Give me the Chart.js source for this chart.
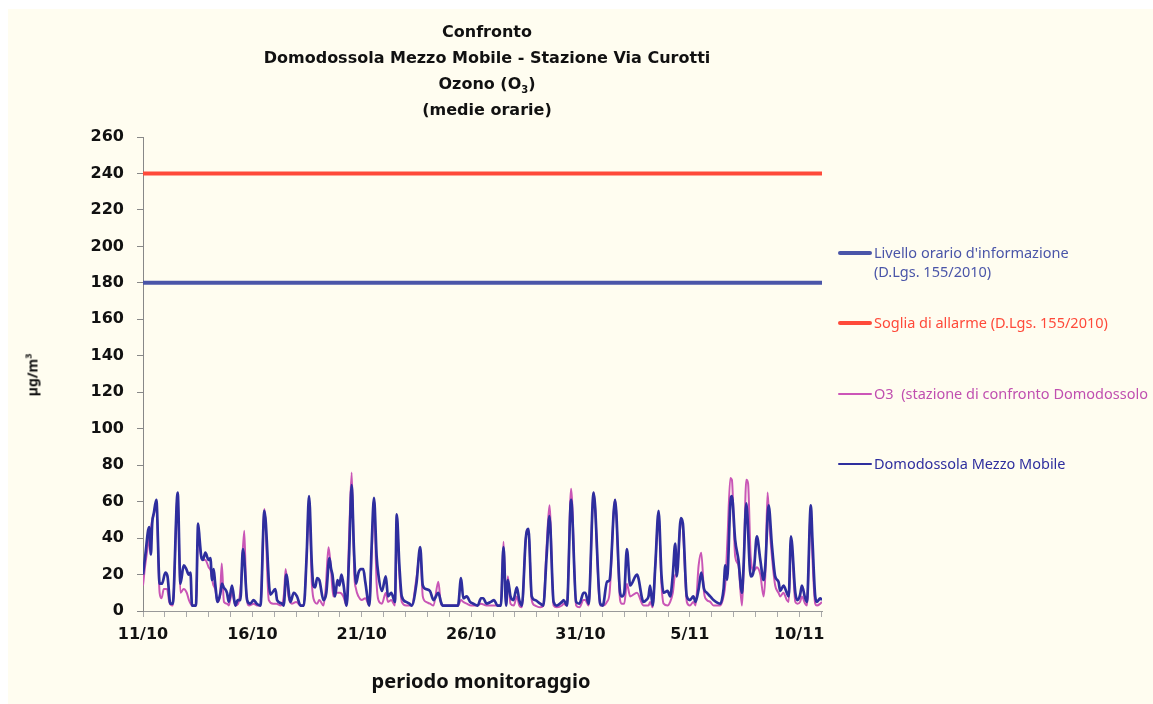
<!DOCTYPE html>
<html>
<head>
<meta charset="utf-8">
<script src="https://cdn.jsdelivr.net/npm/chart.js@4.4.1/dist/chart.umd.min.js"></script>
<style>
  body { margin: 0; background: #fff; }
  #wrap { position: relative; width: 1153px; height: 704px; overflow: hidden; }
  #bg { position: absolute; left: 8px; top: 9px; right: 0; bottom: 0; background: #fffdf0; }
  canvas { position: absolute; left: 0; top: 0; }
  .txt { position: absolute; font-family: 'Noto Sans', sans-serif; white-space: nowrap; }
  #title { left: 0; width: 974px; top: 19px; text-align: center; font-family: 'DejaVu Sans', sans-serif; font-weight: bold; font-size: 16px; line-height: 26px; color: #111; }
  #title sub { font-size: 10px; line-height: 0; }
  #ytitle { left: 32px; top: 375px; transform: translate(-50%, -50%) rotate(-90deg); font-weight: bold; font-size: 14px; color: #111; }
  #ytitle sup { font-size: 9px; line-height: 0; }
  #xtitle { left: 481px; top: 680px; transform: translate(-50%, -50%); font-weight: bold; font-size: 20px; color: #111; }
  .leg { font-size: 14.5px; line-height: 19px; }
  .swatch { position: absolute; left: 838px; width: 34px; border-radius: 2px; }
</style>
</head>
<body>
<div id="wrap">
  <div id="bg"></div>
  <canvas id="chart" width="1153" height="704"></canvas>
  <div id="title" class="txt">Confronto<br>Domodossola Mezzo Mobile - Stazione Via Curotti<br>Ozono (O<sub>3</sub>)<br>(medie orarie)</div>
  <div id="ytitle" class="txt">µg/m<sup>3</sup></div>
  <div id="xtitle" class="txt">periodo monitoraggio</div>

  <div class="swatch" style="top:251px;height:4px;background:#4a55a8"></div>
  <div class="txt leg" style="left:874px;top:243px;color:#4a55a8">Livello orario d'informazione<br>(D.Lgs. 155/2010)</div>

  <div class="swatch" style="top:321px;height:4px;background:#ff4a3a"></div>
  <div class="txt leg" style="left:874px;top:313px;color:#ff4a3a">Soglia di allarme (D.Lgs. 155/2010)</div>

  <div class="swatch" style="top:393px;height:1.5px;background:#cc55b8"></div>
  <div class="txt leg" style="left:874px;top:384px;color:#c050b0">O3&nbsp; (stazione di confronto Domodossolo</div>

  <div class="swatch" style="top:463px;height:2px;background:#2e2e9e"></div>
  <div class="txt leg" style="left:874px;top:454px;color:#2e2e9e">Domodossola Mezzo Mobile</div>
</div>

<script>
// soglie (D.Lgs. 155/2010)
const infoLevel = 180;
const alarmLevel = 240;

// asse x: giorni dal 11/10
const tickDays = [0, 5, 10, 15, 20, 25, 30];
const tickLabels = ["11/10", "16/10", "21/10", "26/10", "31/10", "5/11", "10/11"];
const lastDay = 31.04;

// letture [giorno, µg/m3] - mezzo mobile
const mezzoMobile = [
  [0, 20], [0.1, 30], [0.28, 46], [0.36, 31], [0.42, 48], [0.5, 54], [0.61, 61], [0.76, 15], [0.87, 15],
  [1.02, 21], [1.12, 19], [1.25, 4], [1.36, 4], [1.585, 65], [1.71, 15], [1.86, 25], [1.98, 23],
  [2.09, 20], [2.17, 21], [2.24, 3], [2.42, 3], [2.52, 48], [2.59, 39], [2.66, 30], [2.74, 28], [2.85, 32],
  [3.0, 28], [3.08, 29], [3.16, 17], [3.23, 23], [3.3, 15], [3.41, 5], [3.54, 10], [3.61, 15], [3.69, 13],
  [3.84, 10], [3.92, 5], [4.07, 14], [4.22, 3], [4.33, 6], [4.45, 6], [4.57, 34], [4.62, 30], [4.76, 6],
  [4.9, 4], [5.06, 6], [5.2, 4], [5.37, 3], [5.55, 55], [5.82, 9], [6.05, 12], [6.13, 6], [6.36, 4],
  [6.43, 3], [6.55, 20], [6.74, 5], [6.89, 10], [7.04, 8], [7.2, 3], [7.35, 3], [7.48, 30], [7.59, 63],
  [7.72, 25], [7.79, 14], [7.87, 13], [7.96, 18], [8.06, 17], [8.25, 6], [8.38, 10], [8.52, 29], [8.6, 23],
  [8.66, 20], [8.78, 8], [8.89, 17], [8.98, 14], [9.07, 20], [9.16, 15], [9.31, 3], [9.42, 30], [9.54, 69],
  [9.64, 35], [9.74, 15], [9.85, 21], [9.96, 23], [10.07, 23], [10.16, 16], [10.35, 3], [10.45, 35],
  [10.56, 62], [10.68, 30], [10.76, 20], [10.92, 11], [11.1, 19], [11.2, 8], [11.35, 10], [11.52, 5],
  [11.6, 53], [11.72, 25], [11.83, 8], [12.03, 5], [12.18, 4], [12.28, 3], [12.5, 15], [12.67, 35],
  [12.79, 14], [12.94, 12], [13.12, 11], [13.28, 6], [13.5, 10], [13.62, 5], [13.7, 3], [14.4, 3],
  [14.54, 18], [14.64, 7], [14.8, 8], [14.95, 5], [15.1, 4], [15.3, 3], [15.45, 7], [15.56, 7], [15.7, 4],
  [15.9, 5], [16.05, 6], [16.2, 3], [16.36, 3], [16.48, 35], [16.6, 3], [16.68, 17], [16.8, 8], [16.93, 6],
  [17.09, 13], [17.2, 6], [17.32, 3], [17.5, 40], [17.62, 45], [17.77, 8], [17.92, 6], [18.16, 4],
  [18.3, 3], [18.45, 30], [18.58, 52], [18.77, 5], [18.92, 3], [19.15, 5], [19.23, 6], [19.38, 3],
  [19.57, 61], [19.8, 5], [19.95, 4], [20.14, 10], [20.22, 10], [20.37, 4], [20.6, 65], [20.9, 4],
  [21.02, 3], [21.21, 16], [21.33, 17], [21.58, 61], [21.81, 10], [21.89, 8], [22.0, 10], [22.12, 34],
  [22.27, 14], [22.58, 20], [22.88, 5], [23.0, 6], [23.11, 8], [23.18, 14], [23.3, 3], [23.42, 25],
  [23.57, 55], [23.7, 20], [23.8, 10], [23.98, 11], [24.1, 8], [24.22, 20], [24.33, 37], [24.4, 19],
  [24.59, 51], [24.68, 48], [24.86, 8], [25.0, 6], [25.16, 8], [25.26, 5], [25.4, 12], [25.52, 21],
  [25.65, 12], [25.78, 10], [25.93, 8], [26.08, 6], [26.39, 4], [26.54, 12], [26.62, 25], [26.7, 17],
  [26.85, 59], [26.92, 63], [27.07, 39], [27.22, 28], [27.38, 10], [27.45, 23], [27.58, 59], [27.78, 19],
  [27.93, 23], [28.06, 41], [28.22, 28], [28.37, 17], [28.45, 25], [28.6, 58], [28.75, 36], [28.9, 19],
  [29.05, 16], [29.13, 11], [29.28, 14], [29.43, 10], [29.52, 8], [29.62, 41], [29.82, 10], [29.92, 6],
  [30.04, 9], [30.12, 14], [30.27, 7], [30.35, 5], [30.53, 58], [30.6, 40], [30.73, 8], [30.81, 5],
  [30.96, 7], [31.04, 6]
];

// letture [giorno, µg/m3] - stazione di confronto
const stazione = [
  [0, 14], [0.1, 25], [0.28, 40], [0.36, 45], [0.42, 50], [0.5, 53], [0.61, 60], [0.76, 10], [0.85, 7],
  [0.95, 12], [1.1, 12], [1.2, 5], [1.36, 3], [1.585, 64], [1.71, 10], [1.86, 12], [2.0, 10], [2.1, 6],
  [2.24, 3], [2.42, 3], [2.52, 44], [2.6, 35], [2.7, 28], [2.85, 28], [3.0, 24], [3.1, 22], [3.2, 15],
  [3.3, 12], [3.41, 5], [3.52, 8], [3.6, 26], [3.7, 5], [3.85, 4], [3.92, 3], [4.07, 10], [4.22, 3],
  [4.35, 4], [4.48, 15], [4.63, 44], [4.72, 10], [4.85, 3], [5.06, 4], [5.2, 3], [5.37, 3], [5.55, 56],
  [5.75, 6], [5.95, 4], [6.1, 4], [6.3, 3], [6.45, 10], [6.52, 23], [6.65, 8], [6.8, 4], [7.0, 5],
  [7.2, 3], [7.35, 3], [7.48, 30], [7.59, 61], [7.72, 15], [7.85, 5], [7.96, 4], [8.06, 6], [8.25, 3],
  [8.35, 12], [8.48, 35], [8.58, 25], [8.7, 8], [8.85, 10], [9.0, 10], [9.16, 8], [9.31, 3], [9.42, 40],
  [9.54, 76], [9.66, 20], [9.74, 12], [9.85, 8], [10.0, 6], [10.16, 7], [10.35, 3], [10.45, 30],
  [10.56, 58], [10.68, 15], [10.76, 6], [10.92, 4], [11.1, 10], [11.2, 5], [11.35, 6], [11.52, 3],
  [11.6, 53], [11.72, 20], [11.83, 5], [12.03, 3], [12.28, 3], [12.5, 18], [12.67, 33], [12.79, 8],
  [12.94, 5], [13.12, 4], [13.28, 3], [13.5, 16], [13.62, 4], [13.7, 3], [14.4, 3], [14.54, 6],
  [14.64, 5], [14.8, 4], [15.0, 3], [15.26, 3], [15.45, 4], [15.7, 3], [16.1, 3], [16.36, 3],
  [16.48, 38], [16.6, 3], [16.68, 19], [16.8, 4], [16.95, 3], [17.09, 8], [17.2, 3], [17.32, 2],
  [17.5, 40], [17.62, 45], [17.77, 6], [17.92, 3], [18.16, 2], [18.3, 3], [18.45, 35], [18.58, 58],
  [18.77, 3], [18.92, 2], [19.15, 3], [19.23, 4], [19.38, 3], [19.57, 67], [19.8, 3], [19.95, 2],
  [20.14, 6], [20.22, 6], [20.37, 3], [20.6, 65], [20.9, 3], [21.02, 3], [21.21, 5], [21.33, 10],
  [21.58, 61], [21.81, 6], [21.89, 4], [22.0, 4], [22.12, 15], [22.27, 8], [22.58, 10], [22.88, 3],
  [23.0, 3], [23.11, 3], [23.18, 5], [23.3, 2], [23.42, 25], [23.57, 53], [23.7, 15], [23.8, 4],
  [23.98, 3], [24.1, 5], [24.22, 10], [24.33, 20], [24.4, 20], [24.59, 50], [24.68, 45], [24.86, 5],
  [25.0, 3], [25.16, 5], [25.26, 3], [25.4, 25], [25.52, 32], [25.65, 10], [25.78, 6], [25.93, 5],
  [26.08, 3], [26.39, 3], [26.54, 8], [26.62, 15], [26.72, 40], [26.85, 73], [26.92, 72], [27.07, 30],
  [27.22, 25], [27.38, 3], [27.45, 20], [27.58, 72], [27.66, 70], [27.78, 30], [27.93, 22], [28.06, 24],
  [28.22, 20], [28.37, 8], [28.45, 20], [28.55, 65], [28.65, 45], [28.75, 30], [28.9, 14], [29.05, 10],
  [29.13, 8], [29.28, 10], [29.43, 6], [29.52, 5], [29.62, 40], [29.82, 5], [29.92, 4], [30.04, 5],
  [30.12, 8], [30.27, 4], [30.35, 3], [30.53, 56], [30.6, 30], [30.73, 4], [30.81, 3], [30.96, 4],
  [31.04, 5]
];

const toPoints = (rows) => rows.map(([d, v]) => ({ x: d, y: v }));
const flatLine = (level) => [{ x: 0, y: level }, { x: lastDay, y: level }];

const tickFont = { family: "'DejaVu Sans', sans-serif", size: 16, weight: "bold" };

new Chart(document.getElementById("chart"), {
  type: "line",
  data: {
    datasets: [
      {
        label: "Domodossola Mezzo Mobile",
        data: toPoints(mezzoMobile),
        borderColor: "#2e2e9e",
        borderWidth: 2.7,
        cubicInterpolationMode: "monotone",
        order: 0,
      },
      {
        label: "O3  (stazione di confronto Domodossolo",
        data: toPoints(stazione),
        borderColor: "#c956b6",
        borderWidth: 2,
        cubicInterpolationMode: "monotone",
        order: 1,
      },
      {
        label: "Livello orario d'informazione (D.Lgs. 155/2010)",
        data: flatLine(infoLevel),
        borderColor: "#4a55a8",
        borderWidth: 4,
        order: 2,
      },
      {
        label: "Soglia di allarme (D.Lgs. 155/2010)",
        data: flatLine(alarmLevel),
        borderColor: "#ff4a3a",
        borderWidth: 4,
        order: 3,
      },
    ],
  },
  options: {
    responsive: false,
    animation: false,
    elements: { point: { radius: 0 }, line: { tension: 0, borderJoinStyle: "round" } },
    layout: { padding: { left: 0, top: 137, right: 331, bottom: 0 } },
    plugins: { legend: { display: false }, tooltip: { enabled: false } },
    scales: {
      x: {
        type: "linear",
        min: 0,
        max: lastDay,
        afterFit: (s) => { s.height = 93; },
        border: { color: "#999" },
        grid: { drawOnChartArea: false, tickLength: 6, color: "#aaa" },
        ticks: {
          stepSize: 1,
          autoSkip: false,
          includeBounds: false,
          maxRotation: 0,
          minRotation: 0,
          padding: 8,
          color: "#111",
          font: tickFont,
          callback: (v) => {
            const i = tickDays.indexOf(v);
            return i >= 0 ? tickLabels[i] : "";
          },
        },
      },
      y: {
        min: 0,
        max: 260,
        afterFit: (s) => { s.width = 143; },
        border: { color: "#888" },
        grid: { drawOnChartArea: false, tickLength: 6, color: "#888" },
        ticks: { stepSize: 20, padding: 13, color: "#111", font: tickFont },
      },
    },
  },
});
</script>
</body>
</html>
